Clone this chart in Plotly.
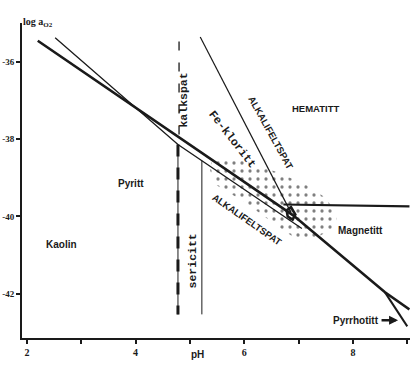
import plotly.graph_objects as go

# ---- data (pH, log aO2) ----
main_ph = [2.20, 6.90, 8.59, 9.04]
main_lo = [-35.46, -39.97, -41.96, -42.40]
pyrr_ph = [8.59, 9.00]
pyrr_lo = [-41.96, -42.84]
thin_ph = [2.52, 4.78, 7.06]
thin_lo = [-35.38, -38.14, -40.31]
steep_ph = [5.19, 6.86]
steep_lo = [-35.36, -39.90]
horiz_ph = [6.72, 9.04]
horiz_lo = [-39.69, -39.74]
kalk_ph = [4.80, 4.80]
kalk_lo = [-35.48, -38.10]
seric_l_ph = [4.78, 4.78]
seric_l_lo = [-38.14, -42.53]
seric_r_ph = [5.22, 5.22]
seric_r_lo = [-38.56, -42.53]
stip_ph = [5.41, 5.92, 6.57, 7.12, 7.49, 7.71, 7.67, 7.40, 7.03, 6.57, 6.02, 5.46, 5.37, 5.41]
stip_lo = [-38.48, -38.53, -38.84, -39.17, -39.51, -39.95, -40.28, -40.49, -40.65, -40.21, -39.64, -39.17, -38.79, -38.48]
blob_ph = [6.78, 6.86, 6.94, 6.89, 6.80, 6.78]
blob_lo = [-39.84, -39.76, -39.95, -40.08, -40.00, -39.84]

x_ticks = [2, 4, 6, 8]
x_ticktext = ["2", "4", "6", "8"]
y_ticks = [-36, -38, -40, -42]
y_ticktext = ["-36", "-38", "-40", "-42"]

INK = "#1a1a1a"
fig = go.Figure()

# stippled field
fig.add_trace(go.Scatter(x=stip_ph, y=stip_lo, mode="lines", fill="toself",
                         line=dict(width=0, color="rgba(0,0,0,0)"),
                         fillcolor="rgba(255,255,255,0)",
                         fillpattern=dict(shape=".", size=8, solidity=0.13,
                                          fgcolor="black", bgcolor="rgba(255,255,255,0)"),
                         hoverinfo="skip", showlegend=False))

def line(xs, ys, w, dash="solid"):
    fig.add_trace(go.Scatter(x=xs, y=ys, mode="lines",
                             line=dict(color=INK, width=w, dash=dash),
                             hoverinfo="skip", showlegend=False))

line(main_ph, main_lo, 2.6)
line(pyrr_ph, pyrr_lo, 2.0)
line(thin_ph, thin_lo, 1.3)
line(steep_ph, steep_lo, 1.2)
line(horiz_ph, horiz_lo, 2.2)
line(kalk_ph, kalk_lo, 1.3, "9px,12px")
line(seric_l_ph, seric_l_lo, 1.0)
line(seric_l_ph, seric_l_lo, 3.0, "12px,11px")
line(seric_r_ph, seric_r_lo, 1.0)
line(blob_ph, blob_lo, 2.6)

sans = "Liberation Sans"
mono = "Liberation Mono"
labels = [
    ("Kaolin", 2.645, -40.72, 0, sans, 10),
    ("Pyritt", 3.915, -39.15, 0, sans, 10),
    ("HEMATITT", 7.32, -37.21, 0, sans, 9.5),
    ("Magnetitt", 8.13, -40.36, 0, sans, 10),
    ("ALKALIFELTSPAT", 6.49, -37.83, 61, sans, 9.5),
    ("ALKALIFELTSPAT", 6.05, -40.08, 35, sans, 9.5),
    ("kalkspat", 4.89, -36.98, -90, mono, 11.5),
    ("Fe-kloritt", 5.79, -38.01, 52, mono, 11.5),
    ("sericitt", 5.04, -41.16, -90, mono, 11.5),
]
for t, x, y, a, fam, sz in labels:
    fig.add_annotation(x=x, y=y, text="<b>%s</b>" % t, showarrow=False,
                       textangle=a, font=dict(family=fam, size=sz, color=INK))

# Pyrrhotitt label with heavy arrow pointing right
fig.add_annotation(x=8.83, y=-42.68, axref="pixel", ayref="pixel", ax=-42, ay=0,
                   text="<b>Pyrrhotitt</b>", showarrow=True, arrowhead=2,
                   arrowsize=0.75, arrowwidth=2.4, arrowcolor=INK, standoff=0,
                   startstandoff=1,
                   font=dict(family=sans, size=10, color=INK))
fig.add_annotation(xref="paper", yref="paper", x=0.4536, y=-0.0762,
                   text="<b>pH</b>", showarrow=False,
                   font=dict(family=sans, size=10, color=INK))
fig.add_annotation(xref="paper", yref="paper", x=-0.003, y=1.029,
                   text="<b>log a<sub>O2</sub></b>", showarrow=False,
                   font=dict(family="Liberation Serif", size=10, color=INK))

fig.update_layout(
    width=410, height=378,
    margin=dict(l=22, r=0, t=23, b=40),
    paper_bgcolor="white", plot_bgcolor="white",
    showlegend=False,
    xaxis=dict(range=[1.91, 9.05], tickvals=x_ticks, ticktext=x_ticktext,
               showgrid=False, zeroline=False, showline=True, linewidth=2,
               linecolor=INK, ticks="outside", ticklen=4, tickwidth=1.5,
               tickcolor=INK,
               minor=dict(tickmode="linear", tick0=3, dtick=2, ticks="outside",
                          ticklen=4, tickwidth=1.5, tickcolor=INK, showgrid=False),
               tickfont=dict(family="Liberation Serif", size=10, color=INK, weight="bold")),
    yaxis=dict(range=[-43.14, -35.0], tickvals=y_ticks, ticktext=y_ticktext,
               showgrid=False, zeroline=False, showline=True, linewidth=2,
               linecolor=INK, ticks="outside", ticklen=4, tickwidth=1.5,
               tickcolor=INK,
               tickfont=dict(family="Liberation Serif", size=9, color=INK, weight="bold")),
)

fig.write_html("out.html", config={"displayModeBar": False},
               post_script="document.body.style.margin='0';")
